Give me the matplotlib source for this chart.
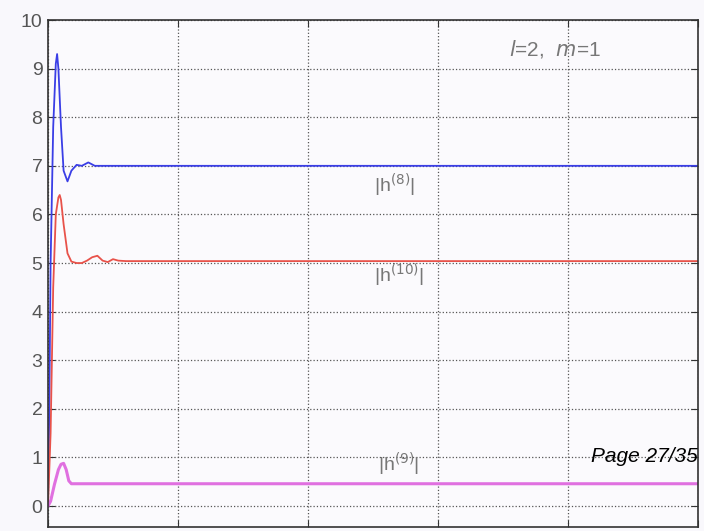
import matplotlib
matplotlib.use("Agg")
import matplotlib.pyplot as plt

plt.rcParams['font.family'] = ['Liberation Sans', 'DejaVu Sans']

# |h^(8)| response
t_h8 = [0, 0.01, 0.02, 0.04, 0.06, 0.07, 0.08, 0.10, 0.12, 0.15, 0.18, 0.22, 0.26, 0.31, 0.36, 5.0]
v_h8 = [0, 2.0, 5.0, 7.8, 9.1, 9.3, 9.0, 7.8, 6.9, 6.68, 6.9, 7.02, 7.0, 7.07, 7.0, 7.0]

# |h^(10)| response
t_h10 = [0, 0.02, 0.04, 0.06, 0.08, 0.09, 0.10, 0.12, 0.15, 0.18, 0.22, 0.26, 0.30, 0.34, 0.38,
         0.42, 0.46, 0.50, 0.54, 0.60, 5.0]
v_h10 = [0, 1.5, 4.5, 6.0, 6.35, 6.4, 6.3, 5.8, 5.2, 5.03, 5.0, 5.0, 5.05, 5.12, 5.15,
         5.05, 5.02, 5.08, 5.05, 5.04, 5.04]

# |h^(9)| response
t_h9 = [0, 0.02, 0.05, 0.08, 0.10, 0.12, 0.14, 0.16, 0.18, 5.0]
v_h9 = [0, 0.1, 0.45, 0.75, 0.86, 0.88, 0.75, 0.52, 0.46, 0.46]

y_ticks = list(range(0, 11))
x_ticks = [0, 1, 2, 3, 4, 5]

fig = plt.figure(figsize=(7.04, 5.31), dpi=100)
fig.patch.set_facecolor('#f9f8fc')
ax = fig.add_axes([48 / 704, 4 / 531, 650 / 704, 507 / 531])
ax.set_facecolor('#fbfafd')

ax.plot(t_h8, v_h8, color='#3a3ee6', lw=1.3)
ax.plot(t_h10, v_h10, color='#e8524a', lw=1.3)
ax.plot(t_h9, v_h9, color='#e070e0', lw=2.2)

ax.set_xlim(0, 5)
ax.set_ylim(-0.43, 10)
ax.set_xticks(x_ticks)
ax.set_xticklabels([])
ax.set_yticks(y_ticks)
ax.tick_params(axis='both', direction='in', length=5, top=True, right=True,
               labelsize=14, labelcolor='#555555', color='#333333', pad=4)
ax.grid(True, linestyle=':', color='#555555', lw=0.9)
for s in ax.spines.values():
    s.set_color('#333333')
    s.set_linewidth(1.2)

txt = dict(color='#777777', fontsize=14, ha='center', va='center')
ax.text(2.67, 6.6, r'|h$^{(8)}$|', **txt)
ax.text(2.7, 4.75, r'|h$^{(10)}$|', **txt)
ax.text(2.7, 0.85, r'|h$^{(9)}$|', **txt)
ax.text(3.9, 9.4, r'$\it{l}$=2,  $\it{m}$=1', **dict(txt, fontsize=15))

fig.text(698 / 704, 1 - 457 / 531, 'Page 27/35', ha='right', va='center',
         fontsize=15, style='italic', color='black')

fig.savefig('out.png', dpi=100, facecolor=fig.get_facecolor())
